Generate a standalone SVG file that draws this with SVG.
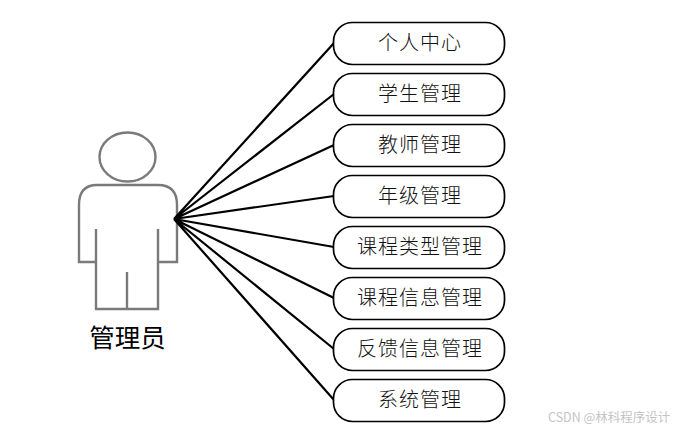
<svg xmlns="http://www.w3.org/2000/svg" width="677" height="431" viewBox="0 0 677 431">
<style>
.box{fill:#fff;stroke:#000;stroke-width:1.7}
.lbl{font-family:"Noto Sans CJK SC","Noto Sans CJK JP",sans-serif;font-size:20px;font-weight:300;fill:#111;text-anchor:middle;letter-spacing:1px}
.con{stroke:#000;stroke-width:2.2;fill:none}
.fig{stroke:#7a7a7a;stroke-width:2.4;fill:none}
</style>
<rect width="677" height="431" fill="#fff"/>
<g id="actor">
<ellipse class="fig" cx="127.500" cy="157" rx="28" ry="24.500"/>
<path class="fig" d="M97 185H158Q177 185 177 205V262H158M158 229V309H96V229M96 262H79V205Q79 185 97 185M127 272V309"/>
<text x="127.500" y="347" font-family="'Noto Sans CJK SC',sans-serif" font-size="25.500" fill="#000" text-anchor="middle">管理员</text>
</g>
<g id="connectors">
<path class="con" d="M174 219L334 43M174 219L334 94M174 219L334 145M174 219L334 196M174 219L334 247M174 219L334 298M174 219L334 349M174 219L334 400"/>
</g>
<g id="n1"><rect class="box" x="333.500" y="22.500" width="171" height="42" rx="19"/><text class="lbl" x="420" y="50">个人中心</text></g>
<g id="n2"><rect class="box" x="333.500" y="73.500" width="171" height="42" rx="19"/><text class="lbl" x="420" y="101">学生管理</text></g>
<g id="n3"><rect class="box" x="333.500" y="124.500" width="171" height="42" rx="19"/><text class="lbl" x="420" y="152">教师管理</text></g>
<g id="n4"><rect class="box" x="333.500" y="175.500" width="171" height="42" rx="19"/><text class="lbl" x="420" y="203">年级管理</text></g>
<g id="n5"><rect class="box" x="333.500" y="226.500" width="171" height="42" rx="19"/><text class="lbl" x="420" y="254">课程类型管理</text></g>
<g id="n6"><rect class="box" x="333.500" y="277.500" width="171" height="42" rx="19"/><text class="lbl" x="420" y="305">课程信息管理</text></g>
<g id="n7"><rect class="box" x="333.500" y="328.500" width="171" height="42" rx="19"/><text class="lbl" x="420" y="356">反馈信息管理</text></g>
<g id="n8"><rect class="box" x="333.500" y="379.500" width="171" height="42" rx="19"/><text class="lbl" x="420" y="407">系统管理</text></g>
<text x="548" y="422" font-family="'Noto Sans CJK SC',sans-serif" font-size="12.500" fill="#c4c4c4">CSDN @林科程序设计</text>
</svg>
